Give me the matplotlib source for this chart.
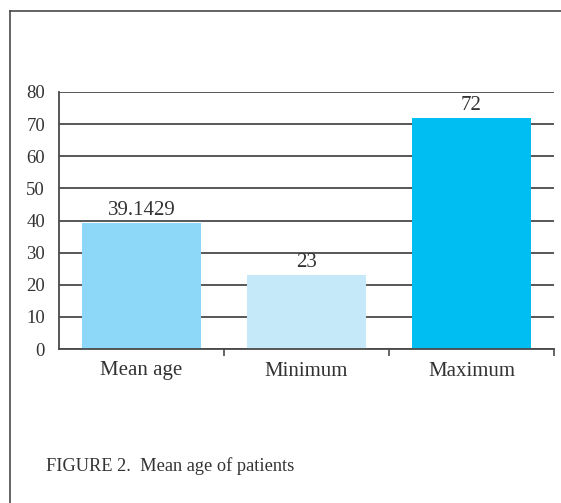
import matplotlib.pyplot as plt
import numpy as np

# Age statistics of patients
categories = ['Mean age', 'Minimum', 'Maximum']
ages = [39.1429, 23, 72]
value_labels = ['39.1429', '23', '72']
bar_colors = ['#8DD8F8', '#C6E9F9', '#00BDF2']
y_ticks = [0, 10, 20, 30, 40, 50, 60, 70, 80]

plt.rcParams['font.family'] = ['Liberation Serif', 'DejaVu Serif']
line_color = '#4a4a4a'
text_color = '#333333'

fig = plt.figure(figsize=(5.61, 5.03), dpi=100)
fig.patch.set_facecolor('white')

# Page frame: left and top rules
fig.add_artist(plt.Line2D([10 / 561, 10 / 561], [0, 1 - 11 / 503],
                          transform=fig.transFigure, color=line_color, lw=1.2))
fig.add_artist(plt.Line2D([10 / 561, 1], [1 - 11 / 503, 1 - 11 / 503],
                          transform=fig.transFigure, color=line_color, lw=1.2))

ax = fig.add_axes([59 / 561, 1 - 349 / 503, (554 - 59) / 561, (349 - 92) / 503])

x = np.arange(len(categories))
ax.set_axisbelow(True)
ax.yaxis.grid(True, color=line_color, lw=1.3)
ax.bar(x, ages, width=0.72, color=bar_colors, zorder=2)

for xi, v, lab in zip(x, ages, value_labels):
    ax.text(xi, v + 0.9, lab, ha='center', va='bottom', fontsize=15, color=text_color)

ax.set_xlim(-0.5, 2.5)
ax.set_ylim(0, 80)
ax.set_yticks(y_ticks)
ax.set_yticklabels([str(t) for t in y_ticks], fontsize=13.5, color=text_color)
ax.tick_params(axis='y', length=0, pad=10)

# Category labels centred, tick marks on the boundaries
ax.set_xticks(x)
ax.set_xticklabels(categories, fontsize=15, color=text_color)
ax.set_xticks([0.5, 1.5, 2.5], minor=True)
ax.tick_params(axis='x', which='major', length=0, pad=9)
ax.tick_params(axis='x', which='minor', length=5, width=1.2, color=line_color)

for side in ['top', 'right']:
    ax.spines[side].set_visible(False)
for side in ['left', 'bottom']:
    ax.spines[side].set_color(line_color)
    ax.spines[side].set_linewidth(1.3)

fig.text(46 / 561, 1 - 466 / 503, 'FIGURE 2.  Mean age of patients',
         fontsize=13.2, color=text_color, va='center', ha='left')

fig.savefig('out.png', dpi=100)
